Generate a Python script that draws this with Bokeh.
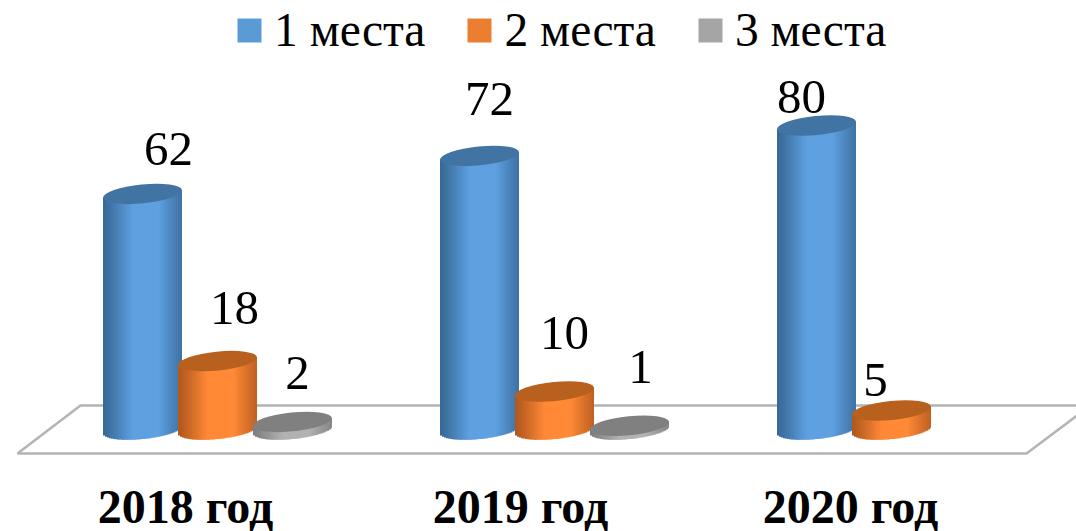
import math
from bokeh.plotting import figure
from bokeh.models import Range1d, ColumnDataSource, Legend, LegendItem, FixedTicker
from bokeh.core.properties import value
from bokeh.embed import file_html
from bokeh.resources import INLINE

years = ["2018 год", "2019 год", "2020 год"]
series_names = ["1 места", "2 места", "3 места"]
places_1 = [62, 72, 80]
places_2 = [18, 10, 5]
places_3 = [2, 1, None]

legend_colors = ["#5B9BD5", "#ED7D31", "#A5A5A5"]
edge_colors = [(56, 104, 150), (176, 88, 30), (125, 125, 125)]
mid_colors = [(94, 160, 224), (255, 137, 54), (178, 178, 178)]
cap_colors = ["#4274A3", "#B8611F", "#808080"]

label_dx = [[26, 10, -15], [17, 10, -16], [5, 11, 0]]
label_dy = [[27, 39, 11], [35, 41, 13], [31, 41, 0]]
tick_pos = [-0.0950, 0.8990, 1.8783]
BASELINE_FIX = 18

FONT = "Liberation Serif"
W, H = 1076, 531
FRAME_H = 470
PX_X, PX_Y = 337.0, 3.80      # pixels per x unit / per value unit
X0, Y0 = 217.0, 429.0         # picture position of group 0 / value 0
BAR_STEP, HW, B, TILT = 75.0 / PX_X, 39.5 / PX_X, 9.5, 0.10
N = 40

p = figure(width=W, height=H, frame_width=W, frame_height=FRAME_H,
           x_range=Range1d(-X0 / PX_X, (W - X0) / PX_X),
           y_range=Range1d((Y0 - FRAME_H) / PX_Y, Y0 / PX_Y),
           toolbar_location=None, output_backend="svg", min_border=0,
           outline_line_color=None, background_fill_color="white")
p.grid.visible = False
p.yaxis.visible = False
ax = p.xaxis[0]
ax.ticker = FixedTicker(ticks=tick_pos)
ax.major_label_overrides = dict(zip(tick_pos, years))
ax.axis_line_color = None
ax.major_tick_line_color = None
ax.minor_tick_line_color = None
ax.major_label_text_font = FONT
ax.major_label_text_font_style = "bold"
ax.major_label_text_font_size = "48px"
ax.major_label_text_color = "black"
ax.major_label_standoff = 3

# floor of the 3D chart
fx = [(px - X0) / PX_X for px in (17, 80, 1090, 1026)]
fy = [(Y0 - py) / PX_Y for py in (453, 405, 405, 453)]
p.patch(fx, fy, fill_color="white", line_color="#B4B4B4", line_width=2.5)

all_series = [places_1, places_2, places_3]
legend_items = []
for s, vals in enumerate(all_series):
    xs = [g + (s - 1) * BAR_STEP for g, v in enumerate(vals) if v is not None]
    vs = [v for v in vals if v is not None]
    base = p.vbar(x=xs, top=vs, width=HW, bottom=0, fill_color=legend_colors[s], line_color=None)
    legend_items.append(LegendItem(label=series_names[s], renderers=[base]))
    for x, v in zip(xs, vs):
        left, right, top, bottom, colors = [], [], [], [], []
        for i in range(N):
            t0 = -1 + 2 * i / N
            t1 = -1 + 2 * (i + 1) / N
            tc = (t0 + t1) / 2
            sag = B * math.sqrt(max(0, 1 - tc * tc))
            dx_px = tc * HW * PX_X
            left.append(x + t0 * HW)
            right.append(x + min(1, t1 + 0.03) * HW)
            top.append(v + dx_px * TILT / PX_Y)
            bottom.append((dx_px * TILT - sag) / PX_Y)
            k = 1 - abs(tc - 0.08) / 1.08
            k = min(1, k * 1.45) ** 1.1
            c = [int(a + (b - a) * k) for a, b in zip(edge_colors[s], mid_colors[s])]
            colors.append("#%02x%02x%02x" % tuple(c))
        src = ColumnDataSource(dict(left=left, right=right, top=top, bottom=bottom, c=colors))
        p.quad(left="left", right="right", top="top", bottom="bottom", source=src,
               fill_color="c", line_color=None)
    p.ellipse(x=xs, y=vs, width=2 * HW * 1.004, height=2 * B / PX_Y, angle=math.atan(TILT),
              fill_color=cap_colors[s], line_color=None)

# value labels
for s, vals in enumerate(all_series):
    rows = [(g + (s - 1) * BAR_STEP, v, label_dx[s][g], -label_dy[s][g] - BASELINE_FIX)
            for g, v in enumerate(vals) if v is not None]
    src = ColumnDataSource(dict(x=[r[0] for r in rows], y=[r[1] for r in rows],
                                t=[str(r[1]) for r in rows],
                                dx=[r[2] for r in rows], dy=[r[3] for r in rows]))
    p.text(x="x", y="y", text="t", x_offset="dx", y_offset="dy", source=src,
           text_font=value(FONT), text_font_size="49px", text_color="black",
           text_align="center", text_baseline="alphabetic")

legend = Legend(items=legend_items, orientation="horizontal", location=(234, FRAME_H - 57),
                glyph_width=30, glyph_height=30, label_standoff=10, spacing=39,
                padding=0, margin=0, border_line_color=None, background_fill_alpha=0,
                label_text_font=FONT, label_text_font_size="47.5px", label_text_color="black")
p.add_layout(legend, "center")

open("out.html", "w").write(file_html(p, INLINE))
